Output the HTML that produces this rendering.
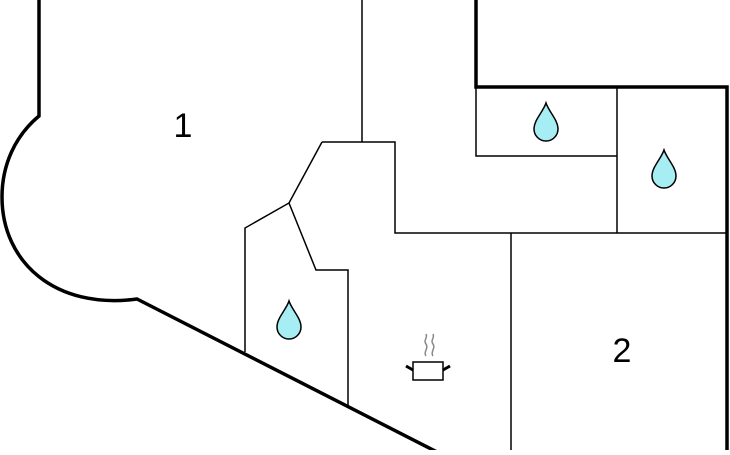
<!DOCTYPE html><html><head><style>body{margin:0;background:#fff}</style></head><body>
<svg width="730" height="450" xmlns="http://www.w3.org/2000/svg">
<defs><path id="d" d="M0,-19 C-3,-10 -12,-2 -12,7 A12,12 0 0 0 12,7 C12,-2 3,-10 0,-19Z" fill="#a6eef4" stroke="#000" stroke-width="1.5"/></defs>
<g fill="none" stroke="#000" stroke-width="3.5" stroke-linejoin="miter">
<path d="M39,0 V116 C15,136 2,165 2,197 C2,262 55,310 137,299 L437,452"/>
<path d="M476,0 V87 H727 V452"/>
</g>
<g fill="none" stroke="#000" stroke-width="1.5">
<path d="M362,0 V142"/>
<path d="M322,142 H395 V233 H727"/>
<path d="M322,142 L289,203 L245,228 V352"/>
<path d="M289,203 L316,270 H348 V405"/>
<path d="M511,233 V452"/>
<path d="M476,87 V156 H617"/>
<path d="M617,87 V233"/>
</g>
<use href="#d" x="546" y="122"/>
<use href="#d" x="664" y="169"/>
<use href="#d" x="289" y="320"/>
<g stroke="#000" fill="none">
<rect x="413" y="362" width="30" height="18" stroke-width="1.5" fill="#fff"/>
<path d="M406,366 L413,370 M450,366 L443,370" stroke-width="3"/>
<path d="M426,356 c-3,-4 3,-8 0,-12 c-3,-4 2,-6 0,-10 M433,356 c-3,-4 3,-8 0,-12 c-3,-4 2,-6 0,-10" stroke="#888" stroke-width="1.5"/>
</g>
<g font-family="Liberation Sans, sans-serif" font-size="34" text-anchor="middle">
<text x="183" y="137">1</text>
<text x="622" y="362">2</text>
</g>
</svg>
</body></html>
